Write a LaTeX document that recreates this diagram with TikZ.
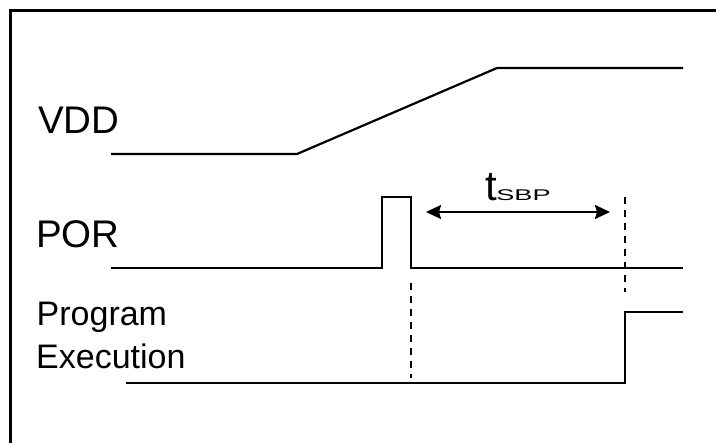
\documentclass[tikz,border=0pt]{standalone}
\usepackage{fontspec}
\setmainfont{Liberation Sans}
\usetikzlibrary{arrows.meta}
\begin{document}
\begin{tikzpicture}[x=1bp,y=-1bp,
  wave/.style={line width=2.2bp, line join=miter},
  guide/.style={line width=1.7bp, dash pattern=on 7bp off 6bp},
  frame/.style={line width=3bp},
  bigtxt/.style={anchor=base west, inner sep=0pt, font=\fontsize{38.5bp}{44bp}\selectfont},
  midtxt/.style={anchor=base west, inner sep=0pt, font=\fontsize{34bp}{40bp}\selectfont},
  dim/.style={line width=2.2bp, {Stealth[length=15bp,width=14bp,inset=2bp]}-{Stealth[length=15bp,width=14bp,inset=2bp]}}]
\clip (0,0) rectangle (716,443);
\fill[white] (0,0) rectangle (716,443);
% frame
\coordinate (fbl) at (10,460);
\coordinate (ftl) at (10,11);
\coordinate (ftr) at (730,11);
\draw[frame] (fbl) -- (ftl) -- (ftr);
% labels
\node[bigtxt] (vdd) at (38,134) {VDD};
\node[bigtxt] (por) at (36,248) {POR};
\node[midtxt] (prog) at (36.5,326) {Program};
\node[midtxt] (exec) at (36,368) {Execution};
\node[anchor=base west, inner sep=0pt] (tsbp) at (485.5,201)
  {\fontsize{42bp}{42bp}\selectfont t\kern-1bp\scalebox{1.75}[1]{\fontsize{15.5bp}{15.5bp}\selectfont SBP}};
% VDD waveform
\coordinate (v0) at (111,154);
\coordinate (v1) at (297,154);
\coordinate (v2) at (497,68);
\coordinate (v3) at (683,68);
\draw[wave] (v0) -- (v1) -- (v2) -- (v3);
% POR waveform
\coordinate (p0) at (111,268);
\coordinate (p1) at (382,268);
\coordinate (p2) at (382,197);
\coordinate (p3) at (411,197);
\coordinate (p4) at (411,268);
\coordinate (p5) at (683,268);
\draw[wave] (p0) -- (p1) -- (p2) -- (p3) -- (p4) -- (p5);
% Program execution waveform
\coordinate (e0) at (126,383);
\coordinate (e1) at (625,383);
\coordinate (e2) at (625,312);
\coordinate (e3) at (683,312);
\draw[wave] (e0) -- (e1) -- (e2) -- (e3);
% guides
\coordinate (g1a) at (411,283);
\coordinate (g1b) at (411,378);
\coordinate (g2a) at (625,197);
\coordinate (g2b) at (625,292);
\draw[guide] (g1a) -- (g1b);
\draw[guide] (g2a) -- (g2b);
% dimension arrow
\coordinate (a0) at (426,212);
\coordinate (a1) at (610,212);
\draw[dim] (a0) -- (a1);
\end{tikzpicture}
\end{document}
